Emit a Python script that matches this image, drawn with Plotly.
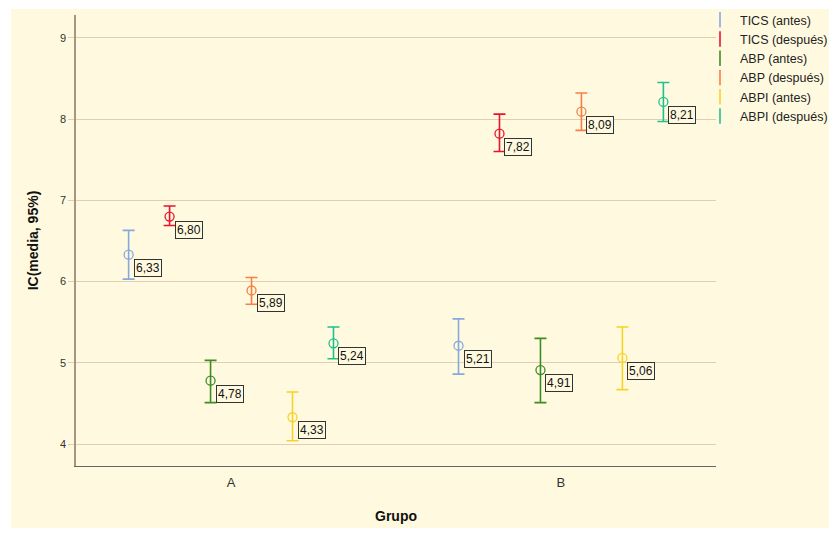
import plotly.graph_objects as go

groups = ["A", "B"]
series = ["TICS (antes)", "TICS (después)", "ABP (antes)", "ABP (después)", "ABPI (antes)", "ABPI (después)"]
colors = ["#86a9dc", "#e8142f", "#3e8c24", "#f67f45", "#f7d22a", "#20c08c"]

# means per series for groups A, B
means = {
    "TICS (antes)": [6.33, 5.21],
    "TICS (después)": [6.80, 7.82],
    "ABP (antes)": [4.78, 4.91],
    "ABP (después)": [5.89, 8.09],
    "ABPI (antes)": [4.33, 5.06],
    "ABPI (después)": [5.24, 8.21],
}
upper = {
    "TICS (antes)": [6.63, 5.54],
    "TICS (después)": [6.93, 8.06],
    "ABP (antes)": [5.03, 5.30],
    "ABP (después)": [6.05, 8.32],
    "ABPI (antes)": [4.64, 5.44],
    "ABPI (después)": [5.44, 8.45],
}
lower = {
    "TICS (antes)": [6.03, 4.86],
    "TICS (después)": [6.69, 7.60],
    "ABP (antes)": [4.51, 4.51],
    "ABP (después)": [5.72, 7.86],
    "ABPI (antes)": [4.04, 4.67],
    "ABPI (después)": [5.05, 7.97],
}

FONT = "Liberation Sans, Arial, sans-serif"
BG = "#fffadf"
GRID = "#e2cfb3"

fig = go.Figure()
step = 0.1242
annotations = []
for i, s in enumerate(series):
    off = (i - 2.5) * step
    xs = [g + off for g in range(len(groups))]
    m = means[s]
    plus = [u - v for u, v in zip(upper[s], m)]
    minus = [v - l for v, l in zip(m, lower[s])]
    fig.add_trace(go.Scatter(
        x=xs, y=m, mode="markers", showlegend=False, legendgroup=s, name=s,
        marker=dict(symbol="circle-open", size=9, color=colors[i], line=dict(width=1.3, color=colors[i])),
        error_y=dict(type="data", symmetric=False, array=plus, arrayminus=minus,
                     color=colors[i], thickness=1.6, width=6),
    ))
    fig.add_trace(go.Scatter(
        x=[None], y=[None], mode="markers", name=s, legendgroup=s,
        marker=dict(symbol="line-ns-open", size=11, color=colors[i], line=dict(width=1.6, color=colors[i])),
    ))
    for x, v in zip(xs, m):
        annotations.append(dict(
            x=x, y=v, xref="x", yref="y", text=f"{v:.2f}".replace(".", ","),
            showarrow=False, xanchor="left", yanchor="top", xshift=5, yshift=-4,
            bordercolor="#333333", borderwidth=1, borderpad=1, bgcolor=BG,
            font=dict(family=FONT, size=12, color="#111111"),
        ))

fig.update_layout(
    width=829, height=520,
    margin=dict(l=68, r=121, t=7, b=62, autoexpand=False),
    paper_bgcolor="white",
    plot_bgcolor="rgba(0,0,0,0)",
    font=dict(family=FONT, size=12, color="#333333"),
    annotations=annotations,
    shapes=[dict(type="rect", xref="paper", yref="paper", x0=-0.1016, x1=1.2, y0=-0.14, y1=1.0133,
                 fillcolor=BG, line=dict(width=0), layer="below")],
    legend=dict(x=0.975, y=1.022, xanchor="left", yanchor="top", bgcolor="rgba(0,0,0,0)",
                font=dict(family=FONT, size=12.5, color="#222222"), tracegroupgap=0,
                itemwidth=30),
    xaxis=dict(
        range=[-0.47, 1.47], tickvals=[0, 1], ticktext=groups, showgrid=False, zeroline=False,
        showline=True, linecolor="#666666", linewidth=1.2, ticks="", ticklabelstandoff=4,
        tickfont=dict(family=FONT, size=13, color="#333333"),
        title=dict(text="<b>Grupo</b>", font=dict(family=FONT, size=14, color="#111111"), standoff=22),
    ),
    yaxis=dict(
        range=[3.73, 9.28], tickvals=[4, 5, 6, 7, 8, 9], showgrid=True, gridcolor=GRID, gridwidth=1,
        zeroline=False, showline=True, linecolor="#a89580", linewidth=1.5,
        ticks="outside", ticklen=6, tickcolor=GRID,
        tickfont=dict(family=FONT, size=11, color="#333333"),
        title=dict(text="<b>IC(media, 95%)</b>", font=dict(family=FONT, size=14, color="#111111"), standoff=18),
    ),
)

fig.write_html("out.html")
